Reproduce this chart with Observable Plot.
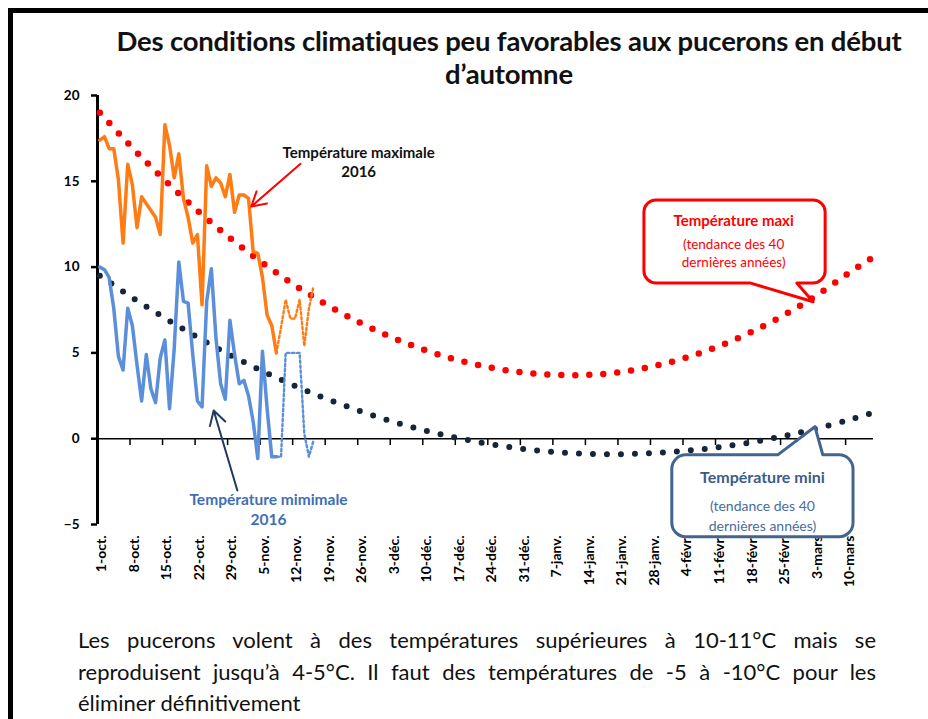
<!DOCTYPE html>
<html><head><meta charset="utf-8">
<script src="https://cdn.jsdelivr.net/npm/d3@7"></script>
<script src="https://cdn.jsdelivr.net/npm/@observablehq/plot@0.6"></script>
<style>
html,body{margin:0;padding:0;background:#fff;}
body{width:928px;height:719px;position:relative;overflow:hidden;font-family:Lato,"Noto Sans",sans-serif;}
#frame{position:absolute;left:8px;top:8px;width:960px;height:760px;border-left:5px solid #000;border-top:5px solid #000;}
#title{position:absolute;left:90px;width:838px;top:24px;text-align:center;font-weight:bold;font-size:27.5px;line-height:33px;color:#111;letter-spacing:-0.2px;}
#chart{position:absolute;left:0;top:88px;}
#caption{position:absolute;left:78px;width:798px;top:624px;font-size:22px;line-height:31.5px;color:#111;}
#caption div{white-space:nowrap;}
#caption .jl{text-align:justify;text-align-last:justify;white-space:normal;}
</style></head>
<body>
<div id="frame"></div>
<div id="title">Des conditions climatiques peu favorables aux pucerons en début<br>d’automne</div>
<div id="chart"></div>
<div id="caption">
<div class="jl">Les pucerons volent à des températures supérieures à 10-11°C mais se</div>
<div class="jl">reproduisent jusqu’à 4-5°C. Il faut des températures de -5 à -10°C pour les</div>
<div>éliminer définitivement</div>
</div>
<script>
// ---- data ----
const tickLabels = ["1-oct.","8-oct.","15-oct.","22-oct.","29-oct.","5-nov.","12-nov.","19-nov.","26-nov.","3-déc.","10-déc.","17-déc.","24-déc.","31-déc.","7-janv.","14-janv.","21-janv.","28-janv.","4-févr.","11-févr.","18-févr.","25-févr.","3-mars","10-mars"];
const yTicks = [-5, 0, 5, 10, 15, 20];

// daily values from 1-oct (day 0)
const maxi2016 = [17.4, 17.6, 16.9, 16.9, 15.1, 11.4, 16.0, 14.8, 12.3, 14.1, 13.7, 13.3, 12.9, 11.9, 18.3, 17.1, 15.2, 16.6, 14.0, 12.9, 11.4, 11.9, 7.8, 15.9, 14.7, 15.2, 14.9, 14.1, 15.4, 13.2, 14.2, 14.2, 14.0, 10.9, 10.8, 9.4, 7.2, 6.6, 5.0];
const mini2016 = [10.0, 9.85, 9.4, 7.6, 4.8, 4.0, 7.6, 6.6, 4.3, 2.2, 4.9, 2.9, 2.1, 4.7, 5.75, 1.75, 5.2, 10.3, 8.0, 7.9, 4.9, 2.2, 1.85, 8.0, 9.9, 5.85, 3.2, 2.3, 6.9, 4.9, 3.2, 3.4, 2.5, 1.0, -1.15, 5.1, 1.75, -1.05, -1.05];

// forecast (dotted) from day 38
const forecastStart = 38;
const maxiForecast = [5.0, 6.5, 8.1, 7.0, 7.0, 8.1, 5.4, 7.6, 8.9];
const miniForecast = [-1.05, -1.05, 5.0, 5.0, 5.0, 5.0, 0.3, -1.05, -0.1];

// 40-year trends (read weekly)
const trendDays = [0, 7, 14, 21, 28, 35, 42, 49, 56, 63, 70, 77, 84, 91, 98, 105, 112, 119, 126, 133, 140, 147, 154, 161, 166];
const maxiTrend = [19.0, 16.95, 15.06, 13.3, 11.7, 10.25, 8.94, 7.78, 6.76, 5.89, 5.16, 4.58, 4.15, 3.86, 3.72, 3.72, 3.88, 4.22, 4.71, 5.37, 6.19, 7.17, 8.31, 9.62, 10.5];
const miniTrend = [9.5, 8.22, 7.03, 5.91, 4.88, 3.94, 3.08, 2.3, 1.61, 1.0, 0.48, 0.04, -0.32, -0.59, -0.78, -0.88, -0.9, -0.84, -0.71, -0.5, -0.22, 0.14, 0.57, 1.08, 1.48];

// ---- helpers ----
const seasonStart = Date.UTC(2015, 9, 1);
const DAY = 864e5;
const toDate = d => new Date(seasonStart + d * DAY);
const tickDates = tickLabels.map((_, i) => toDate(7 * i));
const labelOf = new Map(tickDates.map((d, i) => [+d, tickLabels[i]]));

const daily = (arr, start = 0) => arr.map((v, i) => ({date: toDate(start + i + 0.5), value: v}));
const trend = arr => arr.map((v, i) => ({date: toDate(trendDays[i] + 0.5), value: v}));

function callout(c) {
  return (index, scales) => {
    const X = d => scales.x(toDate(d)), Y = v => scales.y(v);
    const L = X(c.x1), R = X(c.x2), T = Y(c.top), B = Y(c.bottom), r = c.r;
    const b1 = X(c.base1), b2 = X(c.base2), tx = X(c.tipX), ty = Y(c.tipY);
    const p = d3.path();
    p.moveTo(L + r, T);
    if (c.side === "top") { p.lineTo(b1, T); p.lineTo(tx, ty); p.lineTo(b2, T); }
    p.arcTo(R, T, R, B, r);
    p.arcTo(R, B, L, B, r);
    if (c.side === "bottom") { p.lineTo(b2, B); p.lineTo(tx, ty); p.lineTo(b1, B); }
    p.arcTo(L, B, L, T, r);
    p.arcTo(L, T, R, T, r);
    p.closePath();
    return d3.create("svg:path").attr("d", p.toString()).attr("fill", "#fff")
      .attr("stroke", c.stroke).attr("stroke-width", c.sw).attr("stroke-linejoin", "round").node();
  };
}

const note = (d, v, t) => [{d, v, t}];
const txt = (d, v, t, o) => Plot.text(note(d, v, t), {x: a => toDate(a.d), y: "v", text: "t", textAnchor: "middle", lineAnchor: "middle", ...o});

const RED = "#FF0000", ORANGE = "#FF7C14", BLUE = "#5B8FD9", NAVY = "#16253A", STEEL = "#41658F";

const chart = Plot.plot({
  width: 928, height: 520,
  marginLeft: 97, marginRight: 55, marginTop: 7, marginBottom: 84,
  x: {type: "utc", domain: [toDate(0), toDate(167)]},
  y: {domain: [-5, 20]},
  style: {fontFamily: "Lato, 'Noto Sans', sans-serif", overflow: "visible", background: "transparent", color: "#000"},
  marks: [
    Plot.ruleY([0], {stroke: "#000", strokeWidth: 1.5}),
    Plot.ruleX(tickDates, {y1: 0, y2: -0.4, stroke: "#000", strokeWidth: 1.5}),
    Plot.axisX(tickDates, {anchor: "bottom", tickSize: 0, tickPadding: 11, tickRotate: -90, tickFormat: d => labelOf.get(+d), fontWeight: "bold", fontSize: 14, dx: 4, label: null}),
    Plot.axisY(yTicks, {anchor: "left", tickSize: 6, tickPadding: 12, strokeWidth: 2.5, fontWeight: "bold", fontSize: 13.5, label: null}),
    Plot.ruleX([toDate(0)], {y1: -5, y2: 20, stroke: "#000", strokeWidth: 3}),
    Plot.line(trend(maxiTrend), {x: "date", y: "value", curve: "natural", stroke: RED, strokeWidth: 6.5, strokeDasharray: "0 14", strokeLinecap: "round"}),
    Plot.line(trend(miniTrend), {x: "date", y: "value", curve: "natural", stroke: NAVY, strokeWidth: 6, strokeDasharray: "0 14", strokeLinecap: "round"}),
    Plot.line(daily(maxiForecast, forecastStart), {x: "date", y: "value", stroke: ORANGE, strokeWidth: 2.4, strokeDasharray: "2.4 2.6"}),
    Plot.line(daily(miniForecast, forecastStart), {x: "date", y: "value", stroke: BLUE, strokeWidth: 2.4, strokeDasharray: "2.4 2.6"}),
    Plot.line(daily(maxi2016), {x: "date", y: "value", stroke: ORANGE, strokeWidth: 3.5, strokeLinejoin: "round"}),
    Plot.line(daily(mini2016), {x: "date", y: "value", stroke: BLUE, strokeWidth: 3.5, strokeLinejoin: "round"}),
    Plot.arrow(note(0, 0, ""), {x1: () => toDate(43.7), y1: () => 16.02, x2: () => toDate(33.1), y2: () => 13.53, stroke: RED, strokeWidth: 2, headLength: 12}),
    Plot.arrow(note(0, 0, ""), {x1: () => toDate(30.1), y1: () => -3.02, x2: () => toDate(25.0), y2: () => 1.64, stroke: "#1F3A5F", strokeWidth: 2, headLength: 12}),
    txt(56.2, 16.62, "Température maximale", {fontWeight: "bold", fontSize: 15, fill: "#111"}),
    txt(56.2, 15.51, "2016", {fontWeight: "bold", fontSize: 15, fill: "#111"}),
    txt(36.8, -3.6, "Température mimimale", {fontWeight: "bold", fontSize: 15.5, fill: "#3F6EB5"}),
    txt(36.8, -4.76, "2016", {fontWeight: "bold", fontSize: 15.5, fill: "#3F6EB5"}),
    callout({x1: 117.7, x2: 156.7, top: 13.88, bottom: 9.05, r: 12, side: "bottom", base1: 140.5, base2: 150.6, tipX: 154.1, tipY: 7.95, stroke: RED, sw: 3}),
    callout({x1: 123.7, x2: 162.7, top: -0.97, bottom: -5.74, r: 14, side: "top", base1: 146.5, base2: 156.2, tipX: 154.5, tipY: 0.67, stroke: STEEL, sw: 3}),
    txt(136.9, 12.66, "Température maxi", {fontWeight: "bold", fontSize: 15, fill: RED}),
    txt(136.9, 11.32, "(tendance des 40", {fontSize: 13.5, fill: RED}),
    txt(136.9, 10.27, "dernières années)", {fontSize: 13.5, fill: RED}),
    txt(143.1, -2.31, "Température mini", {fontWeight: "bold", fontSize: 16, fill: "#3B5C8A"}),
    txt(143.1, -3.95, "(tendance des 40", {fontSize: 14, fill: "#4A6C9E"}),
    txt(143.1, -5.11, "dernières années)", {fontSize: 14, fill: "#4A6C9E"})
  ]
});
document.getElementById("chart").appendChild(chart);
</script>
</body></html>
